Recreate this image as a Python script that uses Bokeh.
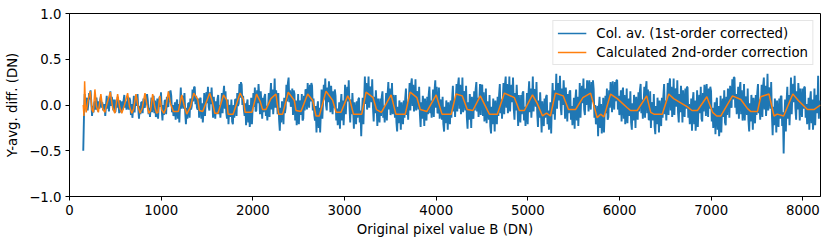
from bokeh.plotting import figure
from bokeh.models import Range1d, FixedTicker
from bokeh.embed import file_html
from bokeh.resources import INLINE

# Column average (1st-order corrected), sampled every 8 DN from 150 (one row = 256 DN)
blue_y = [
    -0.50, -0.12, 0.12, -0.04, -0.03, 0.08, -0.06, 0.02, 0.13, 0.06, 0.16, 0.03, -0.12, -0.01, -0.08, 0.02,
    0.04, -0.05, 0.08, 0.00, -0.07, 0.04, -0.04, 0.05, 0.09, -0.03, 0.03, -0.05, -0.06, 0.01, -0.12, 0.00,
    0.10, -0.04, 0.07, -0.07, 0.02, 0.15, -0.01, 0.09, 0.02, -0.06, 0.06, -0.08, -0.07, 0.06, -0.03, 0.09,
    0.02, -0.09, 0.05, -0.03, -0.08, 0.04, -0.05, 0.05, 0.11, -0.03, 0.04, -0.05, 0.01, 0.09, -0.05, 0.08,
    0.05, -0.11, 0.01, -0.14, -0.04, 0.10, -0.08, 0.03, 0.08, -0.01, 0.12, -0.04, -0.15, -0.01, -0.10, 0.03,
    0.03, -0.09, 0.07, -0.02, -0.03, 0.11, 0.01, 0.12, 0.05, -0.10, -0.03, -0.13, -0.01, 0.08, -0.08, 0.07,
    0.10, -0.09, 0.05, -0.13, -0.10, 0.07, -0.15, -0.01, 0.09, -0.02, 0.14, -0.05, -0.17, 0.00, -0.11, 0.05,
    0.05, -0.10, 0.09, -0.01, -0.02, 0.15, 0.03, 0.16, 0.10, -0.08, 0.00, -0.12, -0.08, 0.03, -0.16, 0.02,
    0.06, -0.15, 0.01, -0.19, 0.01, 0.19, -0.04, 0.10, 0.08, -0.04, 0.13, -0.08, -0.21, -0.03, -0.15, 0.02,
    0.02, -0.14, 0.07, -0.05, -0.01, 0.17, 0.04, 0.19, 0.20, 0.01, 0.10, -0.03, -0.05, 0.07, -0.14, 0.06,
    0.08, -0.15, 0.02, -0.19, -0.07, 0.13, -0.12, 0.03, 0.14, 0.02, 0.20, -0.02, -0.06, 0.14, 0.01, 0.19,
    0.03, -0.14, 0.09, -0.04, -0.15, 0.04, -0.10, 0.06, 0.11, -0.10, 0.00, -0.14, 0.01, 0.13, -0.09, 0.12,
    0.21, -0.04, 0.15, -0.08, -0.15, 0.06, -0.21, -0.05, 0.00, -0.13, 0.06, -0.18, -0.21, 0.00, -0.14, 0.06,
    0.06, -0.12, 0.13, -0.01, 0.02, 0.23, 0.08, 0.25, 0.22, 0.00, 0.10, -0.05, -0.12, 0.02, -0.22, 0.01,
    0.06, -0.19, 0.00, -0.24, -0.14, 0.08, -0.21, -0.03, 0.13, -0.02, 0.19, -0.07, -0.06, 0.16, 0.02, 0.23,
    0.09, -0.10, 0.15, 0.01, -0.15, 0.08, -0.08, 0.09, 0.12, -0.12, -0.01, -0.17, -0.02, 0.13, -0.13, 0.11,
    0.24, -0.05, 0.17, -0.10, 0.04, 0.29, -0.03, 0.16, 0.06, -0.10, 0.13, -0.16, -0.28, -0.03, -0.19, 0.04,
    0.00, -0.21, 0.08, -0.09, -0.03, 0.22, 0.04, 0.24, 0.30, 0.03, 0.16, -0.02, 0.02, 0.18, -0.11, 0.16,
    0.12, -0.17, 0.05, -0.22, -0.14, 0.12, -0.21, -0.01, 0.05, -0.11, 0.12, -0.17, -0.15, 0.10, -0.06, 0.17,
    0.16, -0.05, 0.24, 0.07, -0.03, 0.22, 0.04, 0.24, 0.21, -0.06, 0.07, -0.11, -0.17, -0.01, -0.30, -0.03,
    0.04, -0.25, -0.03, -0.30, -0.08, 0.17, -0.15, 0.04, 0.22, 0.06, 0.29, 0.00, -0.06, 0.19, 0.03, 0.26,
    0.13, -0.08, 0.21, 0.04, -0.10, 0.15, -0.03, 0.17, 0.10, -0.17, -0.04, -0.22, -0.13, 0.03, -0.26, 0.01,
    0.12, -0.17, 0.05, -0.22, -0.03, 0.22, -0.10, 0.09, 0.20, 0.04, 0.27, -0.02, -0.19, 0.06, -0.10, 0.13,
    -0.05, -0.26, 0.03, -0.14, -0.21, 0.04, -0.14, 0.06, 0.08, -0.19, -0.06, -0.34, -0.08, 0.08, -0.21, 0.06,
    0.31, 0.01, 0.24, -0.05, 0.04, 0.31, -0.03, 0.18, 0.20, 0.03, 0.28, -0.02, -0.18, 0.09, -0.09, 0.16,
    0.00, -0.23, 0.07, -0.10, -0.19, 0.07, -0.12, 0.09, 0.15, -0.14, -0.01, -0.19, -0.04, 0.13, -0.17, 0.12,
    0.25, -0.05, 0.18, -0.11, -0.03, 0.24, -0.10, 0.11, 0.03, -0.14, 0.11, -0.19, -0.29, -0.02, -0.20, 0.05,
    -0.04, -0.27, 0.03, -0.14, -0.21, 0.05, -0.14, 0.07, 0.18, -0.11, 0.03, -0.16, 0.07, 0.24, -0.06, 0.23,
    0.29, -0.01, 0.22, -0.07, 0.01, 0.28, -0.06, 0.15, 0.12, -0.05, 0.20, -0.10, -0.24, 0.03, -0.15, 0.10,
    0.00, -0.23, 0.07, -0.10, -0.17, 0.09, -0.10, 0.11, 0.20, -0.09, 0.05, -0.14, 0.00, 0.17, -0.13, 0.16,
    0.27, -0.03, 0.20, -0.09, -0.08, 0.19, -0.15, 0.06, 0.01, -0.16, 0.09, -0.21, -0.29, -0.02, -0.20, 0.05,
    -0.04, -0.27, 0.03, -0.14, -0.21, 0.05, -0.14, 0.07, 0.21, -0.07, 0.06, -0.13, 0.06, 0.23, -0.07, 0.22,
    0.30, -0.04, 0.22, -0.10, 0.01, 0.30, -0.08, 0.15, 0.13, -0.06, 0.21, -0.13, -0.26, 0.03, -0.16, 0.12,
    0.00, -0.25, 0.09, -0.10, -0.15, 0.15, -0.06, 0.17, 0.25, -0.07, 0.08, -0.13, 0.04, 0.23, -0.11, 0.21,
    0.22, -0.12, 0.14, -0.18, -0.11, 0.18, -0.20, 0.03, 0.03, -0.16, 0.11, -0.23, -0.31, -0.02, -0.21, 0.07,
    -0.04, -0.29, 0.05, -0.14, -0.21, 0.09, -0.12, 0.11, 0.23, -0.09, 0.06, -0.15, 0.05, 0.24, -0.10, 0.22,
    0.31, -0.03, 0.23, -0.09, 0.02, 0.31, -0.07, 0.16, 0.22, 0.03, 0.30, -0.04, -0.16, 0.13, -0.06, 0.22,
    0.02, -0.23, 0.11, -0.08, -0.19, 0.11, -0.10, 0.13, 0.15, -0.17, -0.02, -0.23, -0.06, 0.13, -0.21, 0.11,
    0.26, -0.08, 0.18, -0.14, 0.02, 0.31, -0.07, 0.16, 0.17, -0.02, 0.25, -0.09, -0.24, 0.05, -0.14, 0.14,
    -0.05, -0.30, 0.04, -0.15, -0.23, 0.07, -0.14, 0.09, 0.11, -0.21, -0.06, -0.27, -0.16, 0.03, -0.31, 0.01,
    0.24, -0.10, 0.16, -0.16, 0.05, 0.34, -0.04, 0.19, 0.24, 0.05, 0.32, -0.02, -0.11, 0.18, 0.00, 0.27,
    0.10, -0.15, 0.19, 0.00, -0.18, 0.12, -0.09, 0.14, 0.16, -0.16, -0.01, -0.22, -0.11, 0.08, -0.26, 0.06,
    0.17, -0.17, 0.09, -0.23, -0.05, 0.24, -0.14, 0.09, 0.21, 0.02, 0.29, -0.05, -0.11, 0.18, 0.00, 0.27,
    0.18, -0.07, 0.27, 0.08, -0.05, 0.25, 0.04, 0.27, 0.17, -0.14, 0.00, -0.21, -0.19, -0.01, -0.34, -0.03,
    0.09, -0.25, 0.01, -0.31, -0.21, 0.08, -0.30, -0.07, 0.10, -0.09, 0.18, -0.16, -0.13, 0.16, -0.03, 0.25,
    0.17, -0.08, 0.26, 0.07, -0.05, 0.25, 0.04, 0.27, 0.27, -0.05, 0.10, -0.11, -0.03, 0.16, -0.18, 0.14,
    0.19, -0.15, 0.11, -0.21, -0.11, 0.18, -0.20, 0.03, 0.07, -0.12, 0.15, -0.19, -0.27, 0.02, -0.17, 0.11,
    0.00, -0.25, 0.09, -0.10, -0.16, 0.14, -0.07, 0.16, 0.23, -0.09, 0.06, -0.15, 0.01, 0.20, -0.14, 0.18,
    0.26, -0.09, 0.17, -0.16, -0.16, 0.15, -0.25, 0.00, 0.03, -0.17, 0.12, -0.23, -0.32, -0.01, -0.21, 0.08,
    -0.03, -0.30, 0.05, -0.14, -0.23, 0.08, -0.14, 0.10, 0.23, -0.10, 0.05, -0.17, 0.04, 0.24, -0.11, 0.22,
    0.29, -0.06, 0.20, -0.13, -0.02, 0.29, -0.11, 0.14, 0.18, -0.02, 0.27, -0.08, -0.19, 0.12, -0.08, 0.21,
    0.08, -0.19, 0.16, -0.03, -0.13, 0.18, -0.04, 0.20, 0.19, -0.14, 0.01, -0.21, -0.13, 0.07, -0.28, 0.05,
    0.14, -0.21, 0.05, -0.28, -0.15, 0.16, -0.24, 0.01, 0.11, -0.09, 0.20, -0.15, -0.18, 0.13, -0.07, 0.22,
    0.15, -0.12, 0.23, 0.04, -0.13, 0.18, -0.04, 0.20, 0.15, -0.18, -0.03, -0.25, -0.17, 0.03, -0.32, 0.01,
    0.08, -0.27, -0.01, -0.34, -0.21, 0.10, -0.30, -0.05, 0.07, -0.13, 0.16, -0.19, -0.22, 0.09, -0.11, 0.18,
    0.13, -0.14, 0.21, 0.02, -0.03, 0.28, 0.06, 0.30, 0.30, -0.03, 0.12, -0.10, 0.00, 0.20, -0.15, 0.18,
    0.25, -0.10, 0.16, -0.17, -0.08, 0.23, -0.17, 0.08, 0.09, -0.11, 0.18, -0.17, -0.29, 0.02, -0.18, 0.11,
    0.00, -0.27, 0.08, -0.11, -0.20, 0.11, -0.11, 0.13, 0.23, -0.09, 0.06, -0.16, 0.02, 0.22, -0.13, 0.20,
    0.30, -0.05, 0.21, -0.12, 0.03, 0.34, -0.06, 0.19, 0.16, -0.04, 0.25, -0.10, -0.33, -0.02, -0.22, 0.07,
    -0.03, -0.30, 0.05, -0.14, -0.24, 0.07, -0.15, 0.09, 0.10, -0.23, -0.08, -0.53, -0.14, 0.06, -0.29, 0.04,
    0.20, -0.15, 0.11, -0.22, -0.01, 0.30, -0.10, 0.15, 0.23, 0.03, 0.32, -0.03, -0.16, 0.15, -0.05, 0.24,
    0.10, -0.17, 0.18, -0.01, -0.13, 0.18, -0.04, 0.20, 0.19, -0.14, 0.01, -0.21, -0.12, 0.08, -0.27, 0.06,
    0.15, -0.20, 0.06, -0.27, -0.13, 0.18, -0.22, 0.03, 0.11, -0.09, 0.32, -0.15, 0.05,
]
blue_x = list(range(150, 8192, 8))[:len(blue_y)]

# Calculated 2nd-order correction (vertices)
orange_x = [
    150, 158, 165, 174, 182, 200, 226, 245, 260, 277, 295, 315, 342, 362, 385, 410,
    445, 470, 495, 525, 548, 570, 600, 634, 655, 680, 700, 725, 748, 770, 795, 823,
    845, 865, 885, 907, 930, 950, 965, 985, 1005, 1030, 1050, 1079, 1100, 1133, 1188, 1224,
    1250, 1279, 1320, 1355, 1399, 1417, 1453, 1530, 1560, 1585, 1620, 1680, 1716, 1730, 1785, 1861,
    1898, 1916, 1990, 2040, 2080, 2106, 2142, 2197, 2252, 2281, 2325, 2386, 2452, 2470, 2525, 2598,
    2653, 2689, 2725, 2798, 2871, 2908, 2962, 3035, 3060, 3097, 3188, 3235, 3312, 3348, 3402, 3508,
    3560, 3662, 3716, 3790, 3826, 3899, 4000, 4063, 4164, 4216, 4284, 4339, 4400, 4481, 4580, 4667,
    4744, 4853, 4907, 4962, 5050, 5100, 5160, 5203, 5246, 5300, 5385, 5443, 5520, 5600, 5684, 5756,
    5793, 5830, 5902, 5975, 6084, 6120, 6193, 6296, 6340, 6375, 6466, 6536, 6590, 6740, 6790, 6850,
    6952, 7015, 7060, 7105, 7232, 7323, 7396, 7430, 7505, 7540, 7630, 7685, 7720, 7790, 7890, 7950,
    8050, 8120, 8192,
]
orange_y = [
    0.00, -0.12, 0.26, -0.02, -0.08, 0.04, 0.15, -0.05, -0.08, 0.17, -0.02, -0.08, 0.12, -0.04, -0.08, 0.02,
    0.14, -0.03, -0.09, 0.12, -0.03, -0.09, 0.00, 0.13, -0.02, -0.09, -0.04, 0.12, -0.02, -0.09, -0.03, 0.13,
    0.00, -0.09, -0.06, 0.12, -0.02, -0.09, -0.08, 0.10, -0.05, -0.09, -0.04, 0.15, 0.02, -0.07, -0.07, 0.11,
    0.00, -0.10, -0.02, 0.13, 0.06, -0.06, -0.07, 0.13, 0.03, -0.09, -0.09, 0.11, 0.05, -0.10, -0.10, 0.13,
    0.06, -0.08, -0.08, 0.12, 0.04, -0.05, -0.05, 0.07, 0.12, -0.10, -0.10, 0.14, 0.05, -0.06, -0.07, 0.12,
    0.05, -0.12, -0.12, 0.15, 0.05, -0.08, -0.08, 0.10, 0.05, -0.10, -0.10, 0.14, 0.08, -0.05, -0.08, 0.11,
    -0.10, -0.10, 0.14, 0.08, -0.05, -0.07, 0.11, -0.10, -0.10, 0.12, 0.10, -0.05, -0.06, 0.10, -0.10, -0.10,
    0.13, 0.08, -0.06, -0.06, 0.11, 0.02, -0.12, -0.09, -0.12, 0.13, 0.10, -0.05, -0.05, 0.08, 0.13, -0.14,
    -0.10, -0.13, 0.12, 0.07, -0.03, -0.06, -0.06, 0.10, -0.08, -0.10, -0.10, 0.12, 0.07, -0.02, -0.06, -0.06,
    0.09, -0.08, -0.12, -0.12, 0.10, 0.06, -0.04, -0.07, -0.07, 0.09, 0.12, -0.12, -0.10, -0.12, 0.12, 0.05,
    -0.05, -0.05, 0.00,
]

x_ticks = [0, 1000, 2000, 3000, 4000, 5000, 6000, 7000, 8000]
y_ticks = [-1.0, -0.5, 0.0, 0.5, 1.0]
y_tick_labels = ["\u22121.0", "\u22120.5", "0.0", "0.5", "1.0"]
series_names = ["Col. av. (1st-order corrected)", "Calculated 2nd-order correction"]

FONT = "DejaVu Sans"
FS = "13.3px"
BLUE = "#1f77b4"
ORANGE = "#ff7f0e"

p = figure(width=828, height=246, output_backend="svg", toolbar_location=None,
           x_range=Range1d(0, 8192), y_range=Range1d(-1, 1),
           min_border_left=69, min_border_right=8, min_border_top=13, min_border_bottom=50)

p.background_fill_color = "white"
p.border_fill_color = "white"
p.outline_line_color = "black"
p.outline_line_width = 1
p.outline_line_alpha = 1
p.xgrid.visible = False
p.ygrid.visible = False

# dense noisy band drawn a little thicker so it reads as solid, like the original's many points
p.line(blue_x, blue_y, line_color=BLUE, line_width=1.9)
# legend entry for the blue series with the standard width (single point: draws nothing in the plot)
p.line(blue_x[:1], blue_y[:1], line_color=BLUE, line_width=1.5, legend_label=series_names[0])
p.line(orange_x, orange_y, line_color=ORANGE, line_width=1.5, legend_label=series_names[1])

for ax in (p.xaxis[0], p.yaxis[0]):
    ax.axis_line_color = "black"
    ax.major_tick_line_color = "black"
    ax.major_tick_out = 4
    ax.major_tick_in = 0
    ax.minor_tick_line_color = None
    ax.major_label_text_font = FONT
    ax.major_label_text_font_size = FS
    ax.major_label_text_color = "black"
    ax.axis_label_text_font = FONT
    ax.axis_label_text_font_size = FS
    ax.axis_label_text_font_style = "normal"
    ax.axis_label_text_color = "black"
    ax.major_label_standoff = 4

p.xaxis[0].ticker = FixedTicker(ticks=x_ticks)
p.yaxis[0].ticker = FixedTicker(ticks=y_ticks)
p.yaxis[0].major_label_overrides = {t: s for t, s in zip(y_ticks, y_tick_labels)}
p.xaxis[0].axis_label = "Original pixel value B (DN)"
p.yaxis[0].axis_label = "Y-avg. diff. (DN)"
p.xaxis[0].axis_label_standoff = 4
p.yaxis[0].axis_label_standoff = 6

lg = p.legend[0]
lg.location = "top_right"
lg.margin = 7
lg.padding = 4
lg.spacing = 3
lg.glyph_width = 29
lg.glyph_height = 16
lg.label_height = 16
lg.label_standoff = 10
lg.label_text_font = FONT
lg.label_text_font_size = FS
lg.label_text_color = "black"
lg.border_line_color = "#cccccc"
lg.border_line_width = 1
lg.background_fill_color = "white"
lg.background_fill_alpha = 0.8

open("out.html", "w").write(file_html(p, INLINE))
